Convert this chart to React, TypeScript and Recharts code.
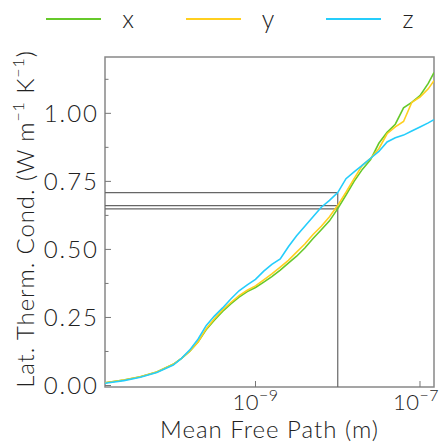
import { LineChart, Line, XAxis, YAxis, ReferenceLine, ReferenceArea, Label } from 'recharts';

const FONT = 'Lato, "Open Sans", sans-serif';
const FW = 300;

// mean free path (m), log-spaced samples
const mfp = [
  1.48e-11, 2.51e-11, 3.98e-11, 6.31e-11, 1e-10, 1.26e-10, 1.58e-10, 2.0e-10, 2.51e-10, 3.16e-10,
  3.98e-10, 5.01e-10, 6.31e-10, 7.94e-10, 1e-9, 1.26e-9, 1.58e-9, 2.0e-9, 2.51e-9, 3.16e-9,
  3.98e-9, 5.01e-9, 6.31e-9, 7.94e-9, 1e-8, 1.26e-8, 1.58e-8, 2.0e-8, 2.51e-8, 3.16e-8,
  3.98e-8, 5.01e-8, 6.31e-8, 7.94e-8, 1e-7, 1.26e-7, 1.48e-7,
];

// cumulative lattice thermal conductivity (W m^-1 K^-1)
const kx = [
  0.010, 0.020, 0.032, 0.050, 0.078, 0.100, 0.125, 0.160, 0.205, 0.240,
  0.272, 0.300, 0.325, 0.345, 0.360, 0.380, 0.400, 0.424, 0.450, 0.475,
  0.505, 0.540, 0.572, 0.605, 0.650, 0.700, 0.750, 0.795, 0.830, 0.890,
  0.930, 0.960, 1.020, 1.040, 1.065, 1.110, 1.150,
];
const ky = [
  0.010, 0.020, 0.032, 0.050, 0.078, 0.100, 0.125, 0.160, 0.208, 0.245,
  0.278, 0.305, 0.330, 0.350, 0.366, 0.388, 0.410, 0.435, 0.460, 0.490,
  0.520, 0.555, 0.585, 0.620, 0.662, 0.710, 0.760, 0.810, 0.835, 0.870,
  0.925, 0.950, 0.970, 1.040, 1.060, 1.090, 1.120,
];
const kz = [
  0.008, 0.018, 0.030, 0.048, 0.075, 0.100, 0.130, 0.170, 0.220, 0.255,
  0.285, 0.318, 0.348, 0.370, 0.390, 0.420, 0.445, 0.465, 0.510, 0.550,
  0.585, 0.620, 0.655, 0.680, 0.709, 0.760, 0.785, 0.810, 0.835, 0.860,
  0.895, 0.910, 0.920, 0.935, 0.950, 0.965, 0.977,
];

const seriesNames = ['x', 'y', 'z'];
const seriesColors = ['#66c92a', '#ffcf1f', '#25cdfb'];

const xTicks = [1e-9, 1e-7];
const xTickExp = ['9', '7'];
const yTicks = [0, 0.125, 0.25, 0.375, 0.5, 0.625, 0.75, 0.875, 1.0, 1.125];

// values of each direction at 10 nm, and the cut position
const cutMfp = 1e-8;
const cutValues = [0.709, 0.661, 0.649];

const xDomain = [1.48e-11, 1.48e-7];
const yDomain = [-0.0055, 1.207];

const data = mfp.map((m, i) => ({ mfp: m, x: kx[i], y: ky[i], z: kz[i] }));

function YTick(props: any) {
  const { x, y, payload } = props;
  const v = payload.value;
  const major = Math.abs(v / 0.25 - Math.round(v / 0.25)) < 1e-6;
  const ax = x + 8;
  return (
    <g>
      <line x1={ax} x2={ax + (major ? 6 : 3.5)} y1={y} y2={y} stroke="#777" strokeWidth={1} />
      {major && (
        <text
          x={x + 2}
          y={y + 8.5}
          textAnchor="end"
          fontSize={24}
          letterSpacing={2}
          fontWeight={FW}
          fontFamily={FONT}
          fill="#222"
        >
          {v.toFixed(2)}
        </text>
      )}
    </g>
  );
}

function XTick(props: any) {
  const { x, y, payload, index } = props;
  const ay = y - 23;
  const i = xTicks.indexOf(payload.value);
  const exp = xTickExp[i] ?? xTickExp[index];
  // the last label sits against the right edge
  const shift = i === xTicks.length - 1 ? -4 : 0;
  return (
    <g>
      <line x1={x} x2={x} y1={ay} y2={ay - 6} stroke="#777" strokeWidth={1} />
      <text
        x={x + shift}
        y={y}
        textAnchor="middle"
        fontSize={22}
        letterSpacing={0.5}
        fontWeight={FW}
        fontFamily={FONT}
        fill="#222"
      >
        10
        <tspan dy={-9} fontSize={16}>{'\u2212' + exp}</tspan>
      </text>
    </g>
  );
}

function XLabel() {
  return (
    <text
      x={269.5}
      y={438}
      textAnchor="middle"
      fontSize={24}
      letterSpacing={1}
      fontWeight={FW}
      fontFamily={FONT}
      fill="#222"
    >
      Mean Free Path (m)
    </text>
  );
}

function YLabel() {
  return (
    <text
      x={0}
      y={0}
      transform="translate(34,219) rotate(-90)"
      textAnchor="middle"
      fontSize={24}
      letterSpacing={0.9}
      fontWeight={FW}
      fontFamily={FONT}
      fill="#222"
    >
      Lat. Therm. Cond. (W m
      <tspan dy={-10} fontSize={16}>{'\u22121'}</tspan>
      <tspan dy={10}> K</tspan>
      <tspan dy={-10} fontSize={16}>{'\u22121'}</tspan>
      <tspan dy={10}>)</tspan>
    </text>
  );
}

function LegendOverlay() {
  const starts = [46, 186, 326];
  return (
    <svg width={441} height={40} style={{ position: 'absolute', left: 0, top: 0 }}>
      {seriesNames.map((n, i) => (
        <g key={n}>
          <line x1={starts[i]} x2={starts[i] + 55} y1={19} y2={19} stroke={seriesColors[i]} strokeWidth={2} />
          <text x={starts[i] + 82} y={28} textAnchor="middle" fontSize={25} fontWeight={FW} fontFamily={FONT} fill="#222">
            {n}
          </text>
        </g>
      ))}
    </svg>
  );
}

export default function App() {
  return (
    <div style={{ position: 'absolute', left: 0, top: 0, width: 441, height: 442, background: '#fff' }}>
      <LineChart width={441} height={442} data={data} margin={{ top: 57, right: 7, bottom: 25, left: 45 }}>
        <XAxis
          dataKey="mfp"
          type="number"
          scale="log"
          domain={xDomain}
          allowDataOverflow
          ticks={xTicks}
          tick={<XTick />}
          tickSize={0}
          tickMargin={23}
          axisLine={false}
          tickLine={false}
          height={30}
        >
          <Label content={<XLabel />} />
        </XAxis>
        <YAxis
          type="number"
          domain={yDomain}
          allowDataOverflow
          ticks={yTicks}
          tick={<YTick />}
          tickSize={0}
          tickMargin={8}
          axisLine={false}
          tickLine={false}
          width={60}
        >
          <Label content={<YLabel />} />
        </YAxis>
        <ReferenceArea
          x1={xDomain[0]}
          x2={xDomain[1]}
          y1={yDomain[0]}
          y2={yDomain[1]}
          fill="none"
          stroke="#888"
          strokeWidth={1.5}
          ifOverflow="extendDomain"
        />
        {cutValues.map((v, i) => (
          <ReferenceLine
            key={i}
            segment={[{ x: xDomain[0], y: v }, { x: cutMfp, y: v }]}
            stroke="#666"
            strokeWidth={1.2}
          />
        ))}
        <ReferenceLine
          segment={[{ x: cutMfp, y: yDomain[0] }, { x: cutMfp, y: cutValues[0] }]}
          stroke="#666"
          strokeWidth={1.2}
        />
        {seriesNames.map((n, i) => (
          <Line
            key={n}
            dataKey={n}
            stroke={seriesColors[i]}
            strokeWidth={1.6}
            dot={false}
            isAnimationActive={false}
            type="linear"
          />
        ))}
      </LineChart>
      <LegendOverlay />
    </div>
  );
}
